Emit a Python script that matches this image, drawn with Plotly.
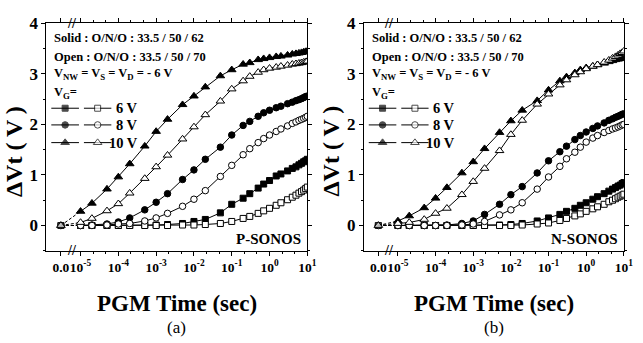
import plotly.graph_objects as go

# ---------------- data ----------------
TIME_S = [1e-5, 2e-5, 5e-5, 1e-4, 2e-4, 5e-4, 1e-3, 2e-3, 5e-3, 1e-2, 2e-2, 5e-2,
          0.1, 0.2, 0.3, 0.5, 0.7, 1, 1.5, 2, 3, 4, 5, 6, 7, 8, 9, 10]
ZERO_LABEL = "0.0"          # t = 0 point, drawn on the broken part of the axis
ZERO_DV = 0.0

# (a) P-SONOS
a_6_solid = [0, 0, 0, 0, 0, 0.01, 0.01, 0.02, 0.04, 0.08, 0.12, 0.25, 0.42, 0.54, 0.63, 0.74,
             0.82, 0.89, 0.98, 1.02, 1.08, 1.13, 1.16, 1.20, 1.23, 1.26, 1.28, 1.31]
a_6_open = [0, 0, 0, 0, 0, 0, 0, 0, 0.01, 0.01, 0.02, 0.04, 0.08, 0.14, 0.18, 0.24,
            0.29, 0.34, 0.40, 0.45, 0.51, 0.56, 0.60, 0.64, 0.67, 0.70, 0.73, 0.76]
a_8_solid = [0.0, 0.01, 0.03, 0.07, 0.15, 0.31, 0.46, 0.63, 0.91, 1.10, 1.31, 1.55, 1.79, 1.98,
             2.06, 2.16, 2.23, 2.28, 2.33, 2.36, 2.41, 2.44, 2.47, 2.49, 2.51, 2.53, 2.55, 2.56]
a_8_open = [0, 0, 0.01, 0.03, 0.04, 0.09, 0.15, 0.24, 0.38, 0.52, 0.69, 0.97, 1.19, 1.40,
            1.52, 1.64, 1.72, 1.79, 1.86, 1.91, 1.97, 2.02, 2.05, 2.08, 2.10, 2.12, 2.14, 2.16]
a_10_solid = [0.28, 0.44, 0.72, 0.96, 1.22, 1.57, 1.86, 2.10, 2.39, 2.56, 2.74, 2.96, 3.08, 3.19,
              3.22, 3.28, 3.30, 3.32, 3.34, 3.35, 3.37, 3.39, 3.40, 3.41, 3.42, 3.43, 3.44, 3.45]
a_10_open = [0.06, 0.14, 0.29, 0.43, 0.64, 0.93, 1.16, 1.39, 1.71, 1.95, 2.19, 2.46, 2.70, 2.86,
             2.95, 3.03, 3.08, 3.11, 3.13, 3.15, 3.17, 3.19, 3.20, 3.21, 3.22, 3.23, 3.24, 3.25]

# (b) N-SONOS
b_6_solid = [0, 0, 0, 0, 0, 0, 0, 0, 0.01, 0.02, 0.04, 0.09, 0.15, 0.22, 0.28, 0.34,
             0.40, 0.45, 0.52, 0.57, 0.63, 0.68, 0.72, 0.75, 0.78, 0.80, 0.83, 0.85]
b_6_open = [0, 0, 0, 0, 0, 0, 0, 0, 0, 0, 0.01, 0.03, 0.05, 0.10, 0.14, 0.19,
            0.23, 0.28, 0.33, 0.37, 0.42, 0.47, 0.50, 0.53, 0.56, 0.58, 0.60, 0.62]
b_8_solid = [0, 0, 0, 0, 0.01, 0.04, 0.09, 0.22, 0.42, 0.61, 0.77, 1.04, 1.28, 1.46,
             1.57, 1.70, 1.78, 1.85, 1.92, 1.97, 2.03, 2.08, 2.11, 2.14, 2.16, 2.18, 2.20, 2.21]
b_8_open = [0, 0, 0, 0, 0, 0.01, 0.03, 0.08, 0.21, 0.31, 0.45, 0.72, 0.96, 1.17,
            1.32, 1.45, 1.55, 1.65, 1.73, 1.78, 1.84, 1.88, 1.91, 1.93, 1.95, 1.97, 1.99, 2.00]
b_10_solid = [0.09, 0.19, 0.35, 0.54, 0.75, 1.04, 1.26, 1.52, 1.84, 2.07, 2.28, 2.47, 2.68, 2.86,
              2.94, 3.02, 3.08, 3.12, 3.15, 3.18, 3.21, 3.24, 3.26, 3.28, 3.29, 3.30, 3.31, 3.32]
b_10_open = [0.04, 0.06, 0.12, 0.24, 0.34, 0.61, 0.87, 1.13, 1.48, 1.80, 2.08, 2.40, 2.60, 2.78,
             2.88, 2.98, 3.04, 3.10, 3.15, 3.18, 3.23, 3.27, 3.31, 3.34, 3.37, 3.40, 3.42, 3.45]

VG_LABELS = ["6 V", "8 V", "10 V"]
X_DECADES = [1e-5, 1e-4, 1e-3, 1e-2, 1e-1, 1e0, 1e1]
X_DECADE_LABELS = ["10<sup>-5</sup>", "10<sup>-4</sup>", "10<sup>-3</sup>", "10<sup>-2</sup>",
                   "10<sup>-1</sup>", "10<sup>0</sup>", "10<sup>1</sup>"]
Y_TICKS = [0, 1, 2, 3, 4]
PANEL_TAGS = ["P-SONOS", "N-SONOS"]
PANEL_LETTERS = ["(a)", "(b)"]

# ---------------- style ----------------
FONT = "Liberation Serif, Times New Roman, Times, serif"
ZERO_POS = 10 ** -5.52          # display position of the t = 0 point
X_RANGE_LOG = [-5.905, 1.0]
SYMBOLS = {"6 V": "square", "8 V": "circle", "10 V": "triangle-up"}
SIZES = {"6 V": 6, "8 V": 6.5, "10 V": 7.5}

panels = [
    {"6 V": (a_6_solid, a_6_open), "8 V": (a_8_solid, a_8_open), "10 V": (a_10_solid, a_10_open)},
    {"6 V": (b_6_solid, b_6_open), "8 V": (b_8_solid, b_8_open), "10 V": (b_10_solid, b_10_open)},
]
x_domains = [[47 / 643, 311.7 / 643], [369 / 643, 632.7 / 643]]
y_domain = [1 - 248.3 / 343, 1 - 14.7 / 343]

fig = go.Figure()

def marker(sym, size, filled):
    return dict(symbol=sym, size=size, color="black" if filled else "white",
                line=dict(color="black", width=1))

for p, data in enumerate(panels):
    xa = "x" if p == 0 else "x2"
    ya = "y" if p == 0 else "y2"
    for vg in VG_LABELS:
        for filled, vals in zip((True, False), data[vg]):
            sym = SYMBOLS[vg]
            # dashed link across the axis break from the t=0 point
            fig.add_trace(go.Scatter(
                x=[ZERO_POS, TIME_S[0]], y=[ZERO_DV, vals[0]], mode="lines+markers",
                line=dict(color="black", width=1, dash="3px,2px"),
                marker=marker(sym, [SIZES[vg], 0], filled),
                xaxis=xa, yaxis=ya, showlegend=False, hoverinfo="skip"))
            fig.add_trace(go.Scatter(
                x=TIME_S, y=vals, mode="lines+markers",
                line=dict(color="black", width=1),
                marker=marker(sym, SIZES[vg], filled),
                xaxis=xa, yaxis=ya, showlegend=False))

    # custom legend keys drawn on an overlay axis (0..1 across the panel)
    lx = "x3" if p == 0 else "x4"
    rows_v = [2.32, 1.99, 1.64]
    for vg, rv in zip(VG_LABELS, rows_v):
        for filled, (x0, x1) in zip((True, False), ((0.019, 0.125), (0.144, 0.249))):
            fig.add_trace(go.Scatter(
                x=[x0, (x0 + x1) / 2, x1], y=[rv, rv, rv], mode="lines+markers",
                line=dict(color="black", width=1),
                marker=marker(SYMBOLS[vg], [0, SIZES[vg], 0], filled),
                xaxis=lx, yaxis=ya, showlegend=False, hoverinfo="skip"))

axis_common = dict(showline=True, linecolor="black", linewidth=1, mirror="ticks",
                   ticks="outside", ticklen=4, tickcolor="black", showgrid=False,
                   zeroline=False)

minor_x = []
for d in range(-5, 1):
    minor_x += [10 ** (d + 1 / 3), 10 ** (d + 2 / 3)]

for p in range(2):
    sfx = "" if p == 0 else "2"
    fig.update_layout(**{
        f"xaxis{sfx}": dict(
            type="log", range=X_RANGE_LOG, domain=x_domains[p], anchor=f"y{sfx}",
            tickmode="array", tickvals=[ZERO_POS] + X_DECADES,
            ticktext=[ZERO_LABEL] + X_DECADE_LABELS, tickangle=0,
            tickfont=dict(family=FONT, size=13.5, color="black", weight="bold"),
            minor=dict(tickmode="array", tickvals=minor_x, ticks="outside", ticklen=2,
                       tickcolor="black"),
            **axis_common),
        f"yaxis{sfx}": dict(
            range=[-0.5, 4], domain=y_domain, anchor=f"x{sfx}",
            tickmode="array", tickvals=Y_TICKS, ticktext=[str(v) for v in Y_TICKS],
            tickfont=dict(family=FONT, size=17, color="black", weight="bold"),
            minor=dict(dtick=0.5, ticks="outside", ticklen=2, tickcolor="black"),
            **axis_common),
    })
fig.update_layout(
    xaxis3=dict(overlaying="x", domain=x_domains[0], range=[0, 1], visible=False, anchor="y"),
    xaxis4=dict(overlaying="x2", domain=x_domains[1], range=[0, 1], visible=False, anchor="y2"),
)

ann = []
for p in range(2):
    xr = "x domain" if p == 0 else "x2 domain"
    yr = "y domain" if p == 0 else "y2 domain"
    bf = dict(family=FONT, color="black", weight="bold")
    lines = [("Solid : O/N/O : 33.5 / 50 / 62", 0.935),
             ("Open : O/N/O : 33.5 / 50 / 70", 0.854),
             ("V<sub>NW</sub> = V<sub>S</sub> = V<sub>D</sub> = - 6 V", 0.777),
             ("V<sub>G</sub>=", 0.695)]
    for txt, yy in lines:
        ann.append(dict(text=txt, xref=xr, yref=yr, x=0.022, y=yy, xanchor="left",
                        yanchor="middle", showarrow=False, font=dict(size=12.5, **bf)))
    for vg, yy in zip(VG_LABELS, [0.626, 0.553, 0.476]):
        ann.append(dict(text=vg, xref=xr, yref=yr, x=0.36, y=yy, xanchor="right",
                        yanchor="middle", showarrow=False, font=dict(size=14.5, **bf)))
    ann.append(dict(text=PANEL_TAGS[p], xref=xr, yref=yr, x=0.985, y=0.05, xanchor="right",
                    yanchor="middle", showarrow=False, font=dict(size=15, **bf)))
    for yy in (0.0, 1.0):
        ann.append(dict(text="<b>//</b>", xref=xr, yref=yr, x=0.098, y=yy, xanchor="center",
                        yanchor="middle", showarrow=False,
                        font=dict(size=14, family=FONT, color="black")))
    cx = (x_domains[p][0] + x_domains[p][1]) / 2
    ann.append(dict(text="PGM Time (sec)", xref="paper", yref="paper", x=cx, y=1 - 302 / 343,
                    xanchor="center", yanchor="middle", showarrow=False,
                    font=dict(size=23, **bf)))
    ann.append(dict(text=PANEL_LETTERS[p], xref="paper", yref="paper", x=cx, y=1 - 327 / 343,
                    xanchor="center", yanchor="middle", showarrow=False,
                    font=dict(size=17, family=FONT, color="black")))
    ann.append(dict(text="ΔVt ( V )", xref="paper", yref="paper",
                    x=(14 if p == 0 else 336) / 643, y=1 - 146 / 343, textangle=-90,
                    xanchor="center", yanchor="middle", showarrow=False,
                    font=dict(size=24, **bf)))

fig.update_layout(width=643, height=343, margin=dict(l=0, r=0, t=0, b=0),
                  paper_bgcolor="white", plot_bgcolor="white", annotations=ann,
                  showlegend=False)

fig.write_html("out.html")
